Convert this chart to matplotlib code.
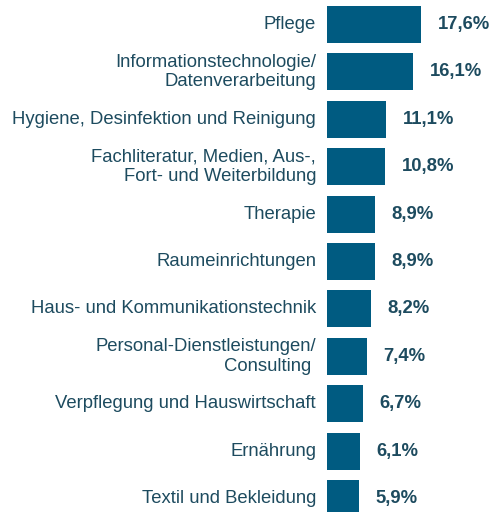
import matplotlib
matplotlib.use('Agg')
import matplotlib.pyplot as plt

# ── Daten ────────────────────────────────────────────────────────────────
kategorien = [
    'Pflege',
    'Informationstechnologie/\nDatenverarbeitung',
    'Hygiene, Desinfektion und Reinigung',
    'Fachliteratur, Medien, Aus-,\nFort- und Weiterbildung',
    'Therapie',
    'Raumeinrichtungen',
    'Haus- und Kommunikationstechnik',
    'Personal-Dienstleistungen/\nConsulting ',
    'Verpflegung und Hauswirtschaft',
    'Ernährung',
    'Textil und Bekleidung',
]
werte = [17.6, 16.1, 11.1, 10.8, 8.9, 8.9, 8.2, 7.4, 6.7, 6.1, 5.9]

BAR_COL  = '#005b81'
TEXT_COL = '#1d4b5f'

plt.rcParams['font.family'] = ['Liberation Sans', 'DejaVu Sans']

W, H = 492, 512
fig = plt.figure(figsize=(W / 100, H / 100), dpi=100)
# Achse beginnt bei x=327 px, 5.34 px pro Prozentpunkt
x0 = 327
pitch = 47.4
ax = fig.add_axes([x0 / W, 0, (W - x0) / W, 1])
ax.set_xlim(0, (W - x0) / 5.34)
ax.set_ylim(10 + (H - 24.5 - 10 * pitch) / pitch, -24.5 / pitch)
ax.axis('off')

y = list(range(len(werte)))
ax.barh(y, werte, height=37 / pitch, color=BAR_COL)

for i, (k, v) in enumerate(zip(kategorien, werte)):
    ax.annotate(k, (0, i), xytext=(-11, 0), textcoords='offset pixels',
                ha='right', va='center', multialignment='right',
                fontsize=13.3, color=TEXT_COL, annotation_clip=False,
                linespacing=1.2)
    ax.annotate(f'{v:.1f}%'.replace('.', ','), (v, i), xytext=(17, 0),
                textcoords='offset pixels', ha='left', va='center',
                fontsize=13.3, fontweight='bold', color=TEXT_COL,
                annotation_clip=False)

fig.savefig('out.png', dpi=100)
